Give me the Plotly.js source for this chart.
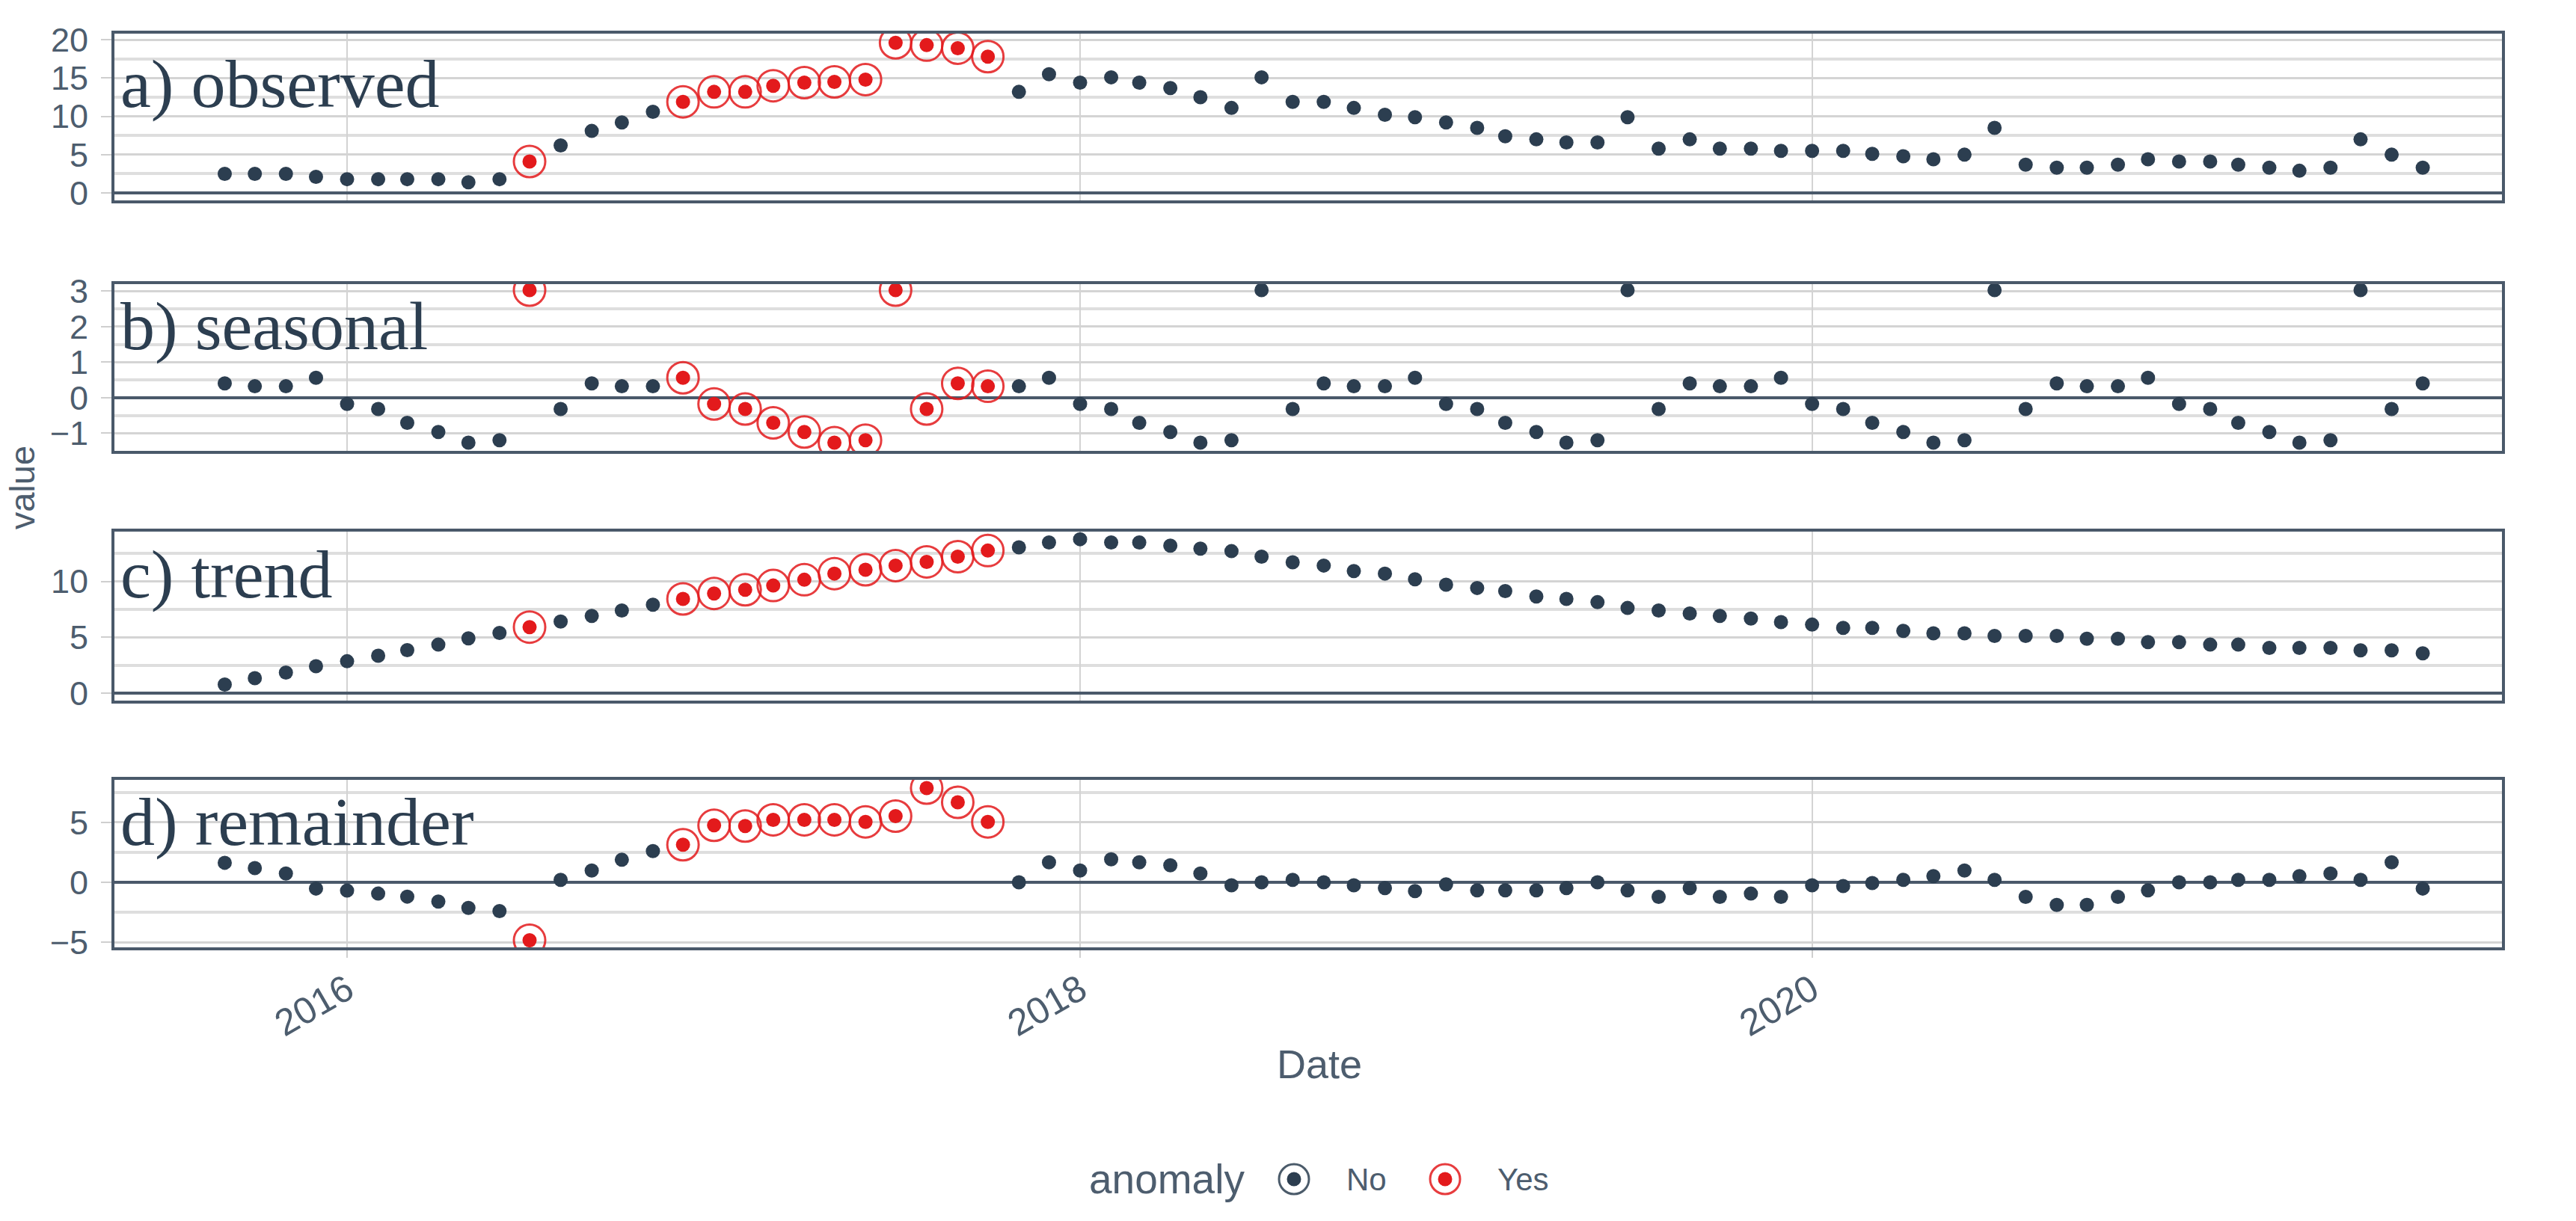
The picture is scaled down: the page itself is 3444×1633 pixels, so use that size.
<!DOCTYPE html>
<html>
<head>
<meta charset="utf-8">
<script src="https://cdn.plot.ly/plotly-3.0.1.min.js"></script>
<style>html,body{margin:0;padding:0;background:#fff;}</style>
</head>
<body>
<div id="chart" style="width:3444px;height:1633px;"></div>
<script>
// monthly dates, Sep 2015 - Sep 2021
const dates = [
    '2015-09-01','2015-10-01','2015-11-01','2015-12-01',
    '2016-01-01','2016-02-01','2016-03-01','2016-04-01','2016-05-01','2016-06-01',
    '2016-07-01','2016-08-01','2016-09-01','2016-10-01','2016-11-01','2016-12-01',
    '2017-01-01','2017-02-01','2017-03-01','2017-04-01','2017-05-01','2017-06-01',
    '2017-07-01','2017-08-01','2017-09-01','2017-10-01','2017-11-01','2017-12-01',
    '2018-01-01','2018-02-01','2018-03-01','2018-04-01','2018-05-01','2018-06-01',
    '2018-07-01','2018-08-01','2018-09-01','2018-10-01','2018-11-01','2018-12-01',
    '2019-01-01','2019-02-01','2019-03-01','2019-04-01','2019-05-01','2019-06-01',
    '2019-07-01','2019-08-01','2019-09-01','2019-10-01','2019-11-01','2019-12-01',
    '2020-01-01','2020-02-01','2020-03-01','2020-04-01','2020-05-01','2020-06-01',
    '2020-07-01','2020-08-01','2020-09-01','2020-10-01','2020-11-01','2020-12-01',
    '2021-01-01','2021-02-01','2021-03-01','2021-04-01','2021-05-01','2021-06-01',
    '2021-07-01','2021-08-01','2021-09-01'
];

const observed = [
    2.5, 2.5, 2.5, 2.1,
    1.8, 1.8, 1.8, 1.8, 1.4, 1.8, 4.1, 6.2, 8.1, 9.2, 10.6, 11.9,
    13.2, 13.2, 14.0, 14.4, 14.5, 14.8, 19.6, 19.3, 18.9, 17.8, 13.2, 15.5,
    14.4, 15.1, 14.4, 13.7, 12.5, 11.1, 15.1, 11.9, 11.9, 11.1, 10.2, 9.9,
    9.2, 8.5, 7.4, 7.0, 6.6, 6.6, 9.9, 5.8, 7.0, 5.8, 5.8, 5.5,
    5.5, 5.5, 5.1, 4.8, 4.4, 5.0, 8.5, 3.7, 3.3, 3.3, 3.7, 4.4,
    4.1, 4.1, 3.7, 3.3, 2.9, 3.3, 7.0, 5.0, 3.3
];

const season = [
    0.40, 0.32, 0.32, 0.56,
    -0.18, -0.32, -0.71, -0.97, -1.27, -1.20, 3.03, -0.32, 0.40, 0.32, 0.32, 0.56,
    -0.18, -0.32, -0.71, -0.97, -1.27, -1.20, 3.03, -0.32, 0.40, 0.32, 0.32, 0.56,
    -0.18, -0.32, -0.71, -0.97, -1.27, -1.20, 3.03, -0.32, 0.40, 0.32, 0.32, 0.56,
    -0.18, -0.32, -0.71, -0.97, -1.27, -1.20, 3.03, -0.32, 0.40, 0.32, 0.32, 0.56,
    -0.18, -0.32, -0.71, -0.97, -1.27, -1.20, 3.03, -0.32, 0.40, 0.32, 0.32, 0.56,
    -0.18, -0.32, -0.71, -0.97, -1.27, -1.20, 3.03, -0.32, 0.40
];

const trend = [
    0.78, 1.34, 1.85, 2.41,
    2.86, 3.35, 3.86, 4.35, 4.91, 5.40, 5.92, 6.41, 6.92, 7.41, 7.92, 8.44,
    8.93, 9.26, 9.64, 10.16, 10.71, 11.05, 11.43, 11.76, 12.23, 12.77, 13.06, 13.50,
    13.79, 13.50, 13.50, 13.21, 12.95, 12.72, 12.23, 11.72, 11.43, 10.94, 10.71, 10.20,
    9.71, 9.42, 9.15, 8.66, 8.44, 8.15, 7.63, 7.41, 7.14, 6.92, 6.68, 6.36,
    6.14, 5.85, 5.85, 5.58, 5.36, 5.36, 5.13, 5.13, 5.13, 4.87, 4.87, 4.58,
    4.58, 4.35, 4.35, 4.06, 4.06, 4.06, 3.84, 3.84, 3.57
];

const remainder = [
    1.63, 1.19, 0.73, -0.52,
    -0.69, -0.94, -1.19, -1.60, -2.13, -2.40, -4.83, 0.21, 0.98, 1.88, 2.60, 3.13,
    4.75, 4.69, 5.21, 5.21, 5.21, 5.04, 5.52, 7.85, 6.67, 5.04, 0.00, 1.67,
    0.98, 1.92, 1.67, 1.42, 0.73, -0.25, 0.00, 0.21, 0.00, -0.25, -0.48, -0.73,
    -0.17, -0.67, -0.67, -0.67, -0.48, 0.00, -0.67, -1.21, -0.48, -1.21, -0.94, -1.21,
    -0.25, -0.31, -0.06, 0.21, 0.52, 0.98, 0.21, -1.21, -1.88, -1.88, -1.21, -0.67,
    0.00, 0.00, 0.21, 0.21, 0.52, 0.73, 0.21, 1.67, -0.52
];

const anomaly = [
    'No','No','No','No',
    'No','No','No','No','No','No','Yes','No','No','No','No','Yes',
    'Yes','Yes','Yes','Yes','Yes','Yes','Yes','Yes','Yes','Yes','No','No',
    'No','No','No','No','No','No','No','No','No','No','No','No',
    'No','No','No','No','No','No','No','No','No','No','No','No',
    'No','No','No','No','No','No','No','No','No','No','No','No',
    'No','No','No','No','No','No','No','No','No'
];

const panelLabels = ['a) observed', 'b) seasonal', 'c) trend', 'd) remainder'];
const xTickVals = ['2016-01-01', '2018-01-01', '2020-01-01'];
const xTickText = ['2016', '2018', '2020'];

const DARK = '#2C3E50';
const RED = '#E31A1C';
const BORDER = '#4A596A';
const TEXT = '#4D5D6E';
const FONT = 'Liberation Sans, Arial, sans-serif';
const PLOT_W = 3444 - 153 - 99;

const panels = [
    { values: observed, range: [-0.97, 20.8], dtick: 5, domain: [0.8175, 1], labelY: 0.70 },
    { values: season, range: [-1.5, 3.2], dtick: 1, domain: [0.5434, 0.7259], labelY: 0.75 },
    { values: trend, range: [-0.67, 14.47], dtick: 5, domain: [0.27, 0.455], labelY: 0.747 },
    { values: remainder, range: [-5.42, 8.54], dtick: 5, domain: [0, 0.1833], labelY: 0.75 }
];

const traces = [];
const layout = {
    width: 3444,
    height: 1633,
    margin: { l: 153, r: 99, t: 45, b: 366 },
    paper_bgcolor: '#ffffff',
    plot_bgcolor: '#ffffff',
    showlegend: false,
    font: { family: FONT, color: TEXT },
    annotations: [],
    shapes: []
};

panels.forEach((p, i) => {
    const n = i === 0 ? '' : String(i + 1);
    const xName = 'x' + n;
    const yName = 'y' + n;

    const ringX = [], ringY = [];
    dates.forEach((d, k) => {
        if (anomaly[k] === 'Yes') {
            ringX.push(d);
            ringY.push(p.values[k]);
        }
    });

    // outer ring marking anomalies
    traces.push({
        x: ringX,
        y: ringY,
        xaxis: xName,
        yaxis: yName,
        type: 'scatter',
        mode: 'markers',
        hoverinfo: 'skip',
        marker: {
            symbol: 'circle-open',
            size: 42,
            color: 'rgba(227,26,28,0.85)',
            line: { width: 3, color: 'rgba(227,26,28,0.85)' }
        }
    });

    traces.push({
        x: dates,
        y: p.values,
        xaxis: xName,
        yaxis: yName,
        type: 'scatter',
        mode: 'markers',
        marker: {
            size: 19,
            color: anomaly.map(a => a === 'Yes' ? RED : DARK)
        }
    });

    const isBottom = i === panels.length - 1;
    layout['xaxis' + n] = {
        type: 'date',
        range: ['2015-05-14', '2021-11-19'],
        domain: [0, 1],
        anchor: yName,
        matches: i === 0 ? undefined : 'x',
        tickvals: xTickVals,
        ticktext: xTickText,
        showticklabels: isBottom,
        ticks: isBottom ? 'outside' : '',
        ticklen: 10,
        tickwidth: 2,
        tickcolor: '#CFCFCF',
        tickangle: -30,
        ticklabelstandoff: -6,
        tickfont: { family: FONT, size: 50, color: TEXT },
        showgrid: true,
        gridcolor: '#D3D3D3',
        gridwidth: 2,
        showline: true,
        linecolor: BORDER,
        linewidth: 4,
        mirror: true,
        zeroline: false
    };

    layout['yaxis' + n] = {
        domain: p.domain,
        anchor: xName,
        range: p.range,
        tick0: 0,
        dtick: p.dtick,
        ticks: 'outside',
        ticklen: 14,
        tickwidth: 2,
        tickcolor: '#CFCFCF',
        ticklabelstandoff: 8,
        tickfont: { family: FONT, size: 45, color: TEXT },
        showgrid: true,
        gridcolor: '#D4D4D4',
        gridwidth: 3,
        minor: { dtick: p.dtick / 2, tick0: 0, showgrid: true, gridcolor: '#DEDEDE', gridwidth: 4 },
        zeroline: true,
        zerolinecolor: BORDER,
        zerolinewidth: 4,
        showline: true,
        linecolor: BORDER,
        linewidth: 4,
        mirror: true
    };

    layout.annotations.push({
        text: panelLabels[i],
        xref: 'paper',
        yref: yName + ' domain',
        x: 0.002,
        y: p.labelY,
        xanchor: 'left',
        yanchor: 'middle',
        showarrow: false,
        font: { family: 'Liberation Serif, Times New Roman, serif', size: 92, color: DARK }
    });
});

// shared axis titles
layout.annotations.push({
    text: 'value',
    xref: 'paper', yref: 'paper',
    x: (29 - 153) / PLOT_W, y: 0.503,
    xanchor: 'center', yanchor: 'middle',
    textangle: -90,
    showarrow: false,
    font: { family: FONT, size: 47, color: TEXT }
});
layout.annotations.push({
    text: 'Date',
    xref: 'paper', yref: 'paper',
    x: (1764 - 153) / PLOT_W, y: -0.1277,
    xanchor: 'center', yanchor: 'middle',
    showarrow: false,
    font: { family: FONT, size: 54, color: TEXT }
});

// legend: anomaly  (o) No  (o) Yes
const legendY = -0.2537;
const legendItems = [
    { label: 'No', color: DARK, ringColor: 'rgba(44,62,80,0.85)', px: 1730 },
    { label: 'Yes', color: RED, ringColor: 'rgba(227,26,28,0.85)', px: 1932 }
];
layout.annotations.push({
    text: 'anomaly',
    xref: 'paper', yref: 'paper',
    x: (1666 - 153) / PLOT_W, y: legendY,
    xanchor: 'right', yanchor: 'middle',
    showarrow: false,
    font: { family: FONT, size: 55, color: TEXT }
});
legendItems.forEach(item => {
    const x = (item.px - 153) / PLOT_W;
    layout.shapes.push({
        type: 'circle', xref: 'paper', yref: 'paper',
        xsizemode: 'pixel', ysizemode: 'pixel',
        xanchor: x, yanchor: legendY,
        x0: -20, x1: 20, y0: -20, y1: 20,
        line: { color: item.ringColor, width: 3 }
    });
    layout.shapes.push({
        type: 'circle', xref: 'paper', yref: 'paper',
        xsizemode: 'pixel', ysizemode: 'pixel',
        xanchor: x, yanchor: legendY,
        x0: -9.5, x1: 9.5, y0: -9.5, y1: 9.5,
        fillcolor: item.color,
        line: { width: 0 }
    });
    layout.annotations.push({
        text: item.label,
        xref: 'paper', yref: 'paper',
        x: (item.px + 68 - 153) / PLOT_W, y: legendY,
        xanchor: 'left', yanchor: 'middle',
        showarrow: false,
        font: { family: FONT, size: 42, color: TEXT }
    });
});

Plotly.newPlot('chart', traces, layout, { displayModeBar: false, staticPlot: true });
</script>
</body>
</html>
